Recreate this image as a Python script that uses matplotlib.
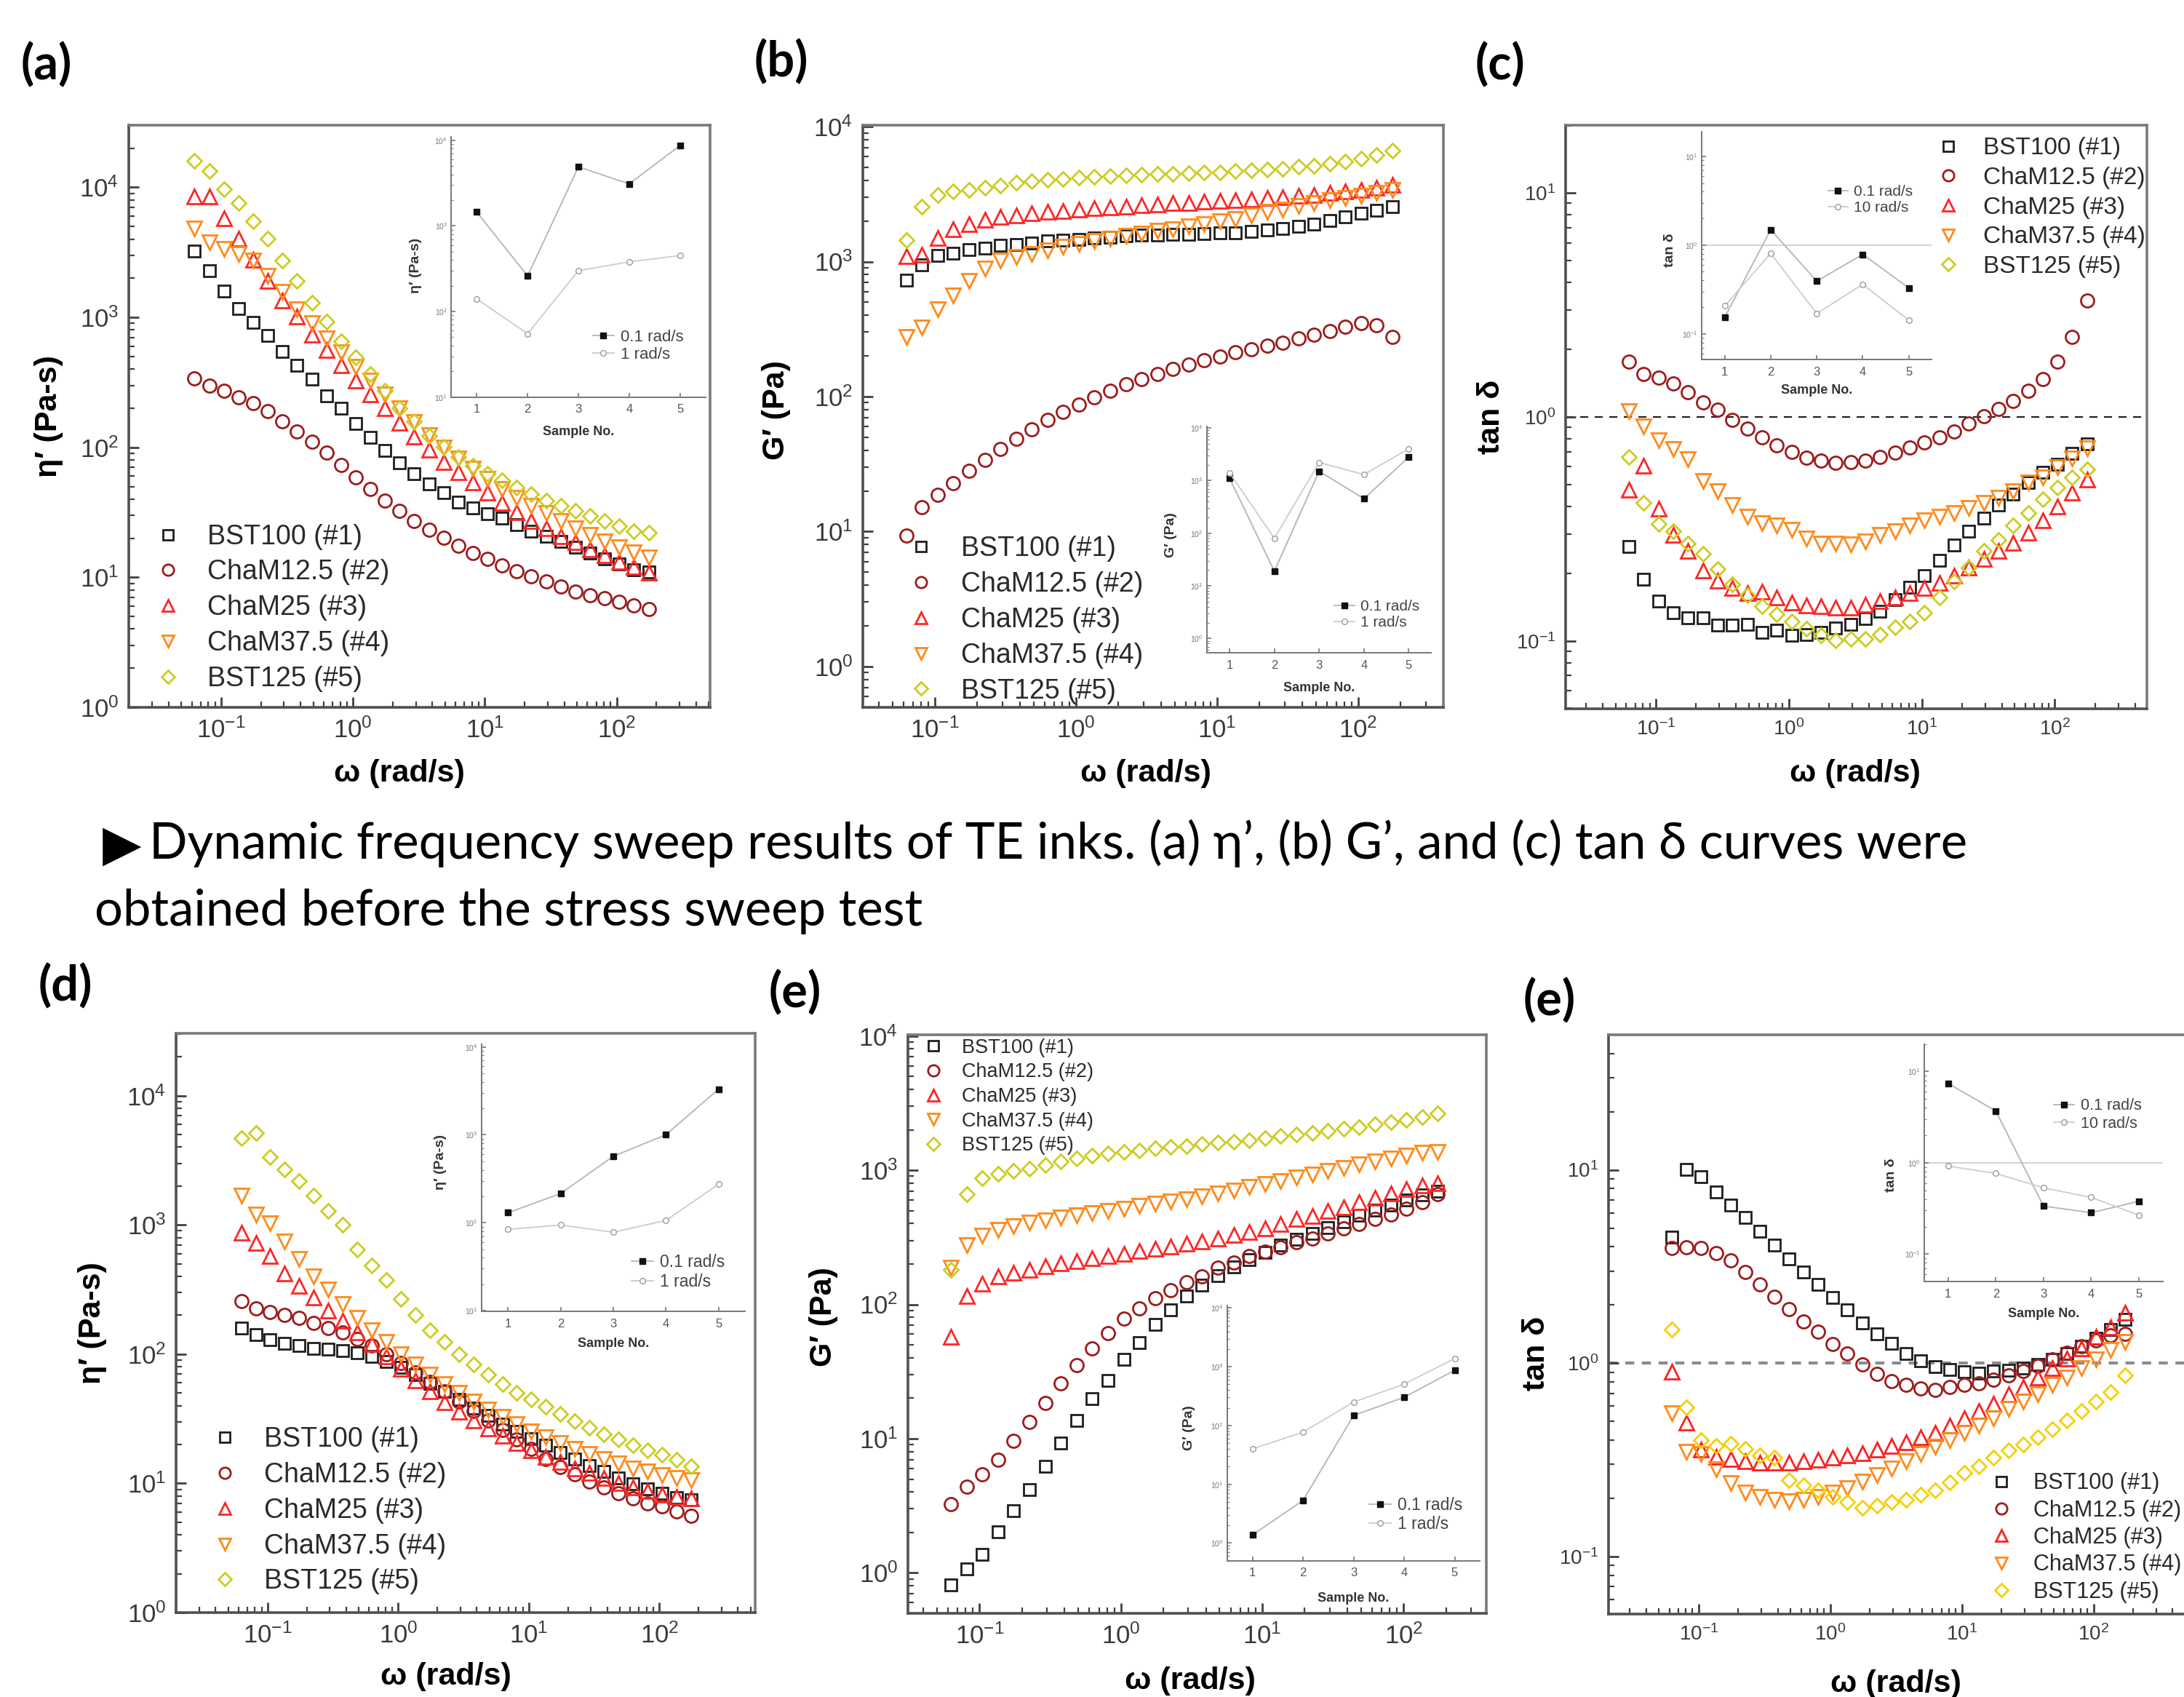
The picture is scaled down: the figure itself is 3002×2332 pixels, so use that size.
import numpy as np
import matplotlib
matplotlib.use("Agg")
import matplotlib.pyplot as plt
from matplotlib.ticker import LogLocator, NullFormatter, FixedLocator

# angular frequency grid (rad/s), shared by every panel
omega = [0.0628, 0.0811, 0.1048, 0.1353, 0.1748, 0.2257, 0.2915, 0.3765, 0.4863,
         0.628, 0.811, 1.048, 1.353, 1.748, 2.257, 2.915, 3.765, 4.863,
         6.28, 8.11, 10.48, 13.53, 17.48, 22.57, 29.15, 37.65, 48.63,
         62.8, 81.1, 104.8, 135.3, 174.8]
samples = [1, 2, 3, 4, 5]
names = ["BST100 (#1)", "ChaM12.5 (#2)", "ChaM25 (#3)", "ChaM37.5 (#4)", "BST125 (#5)"]

# (a) eta' before stress sweep
a_bst100 = [3230, 2290, 1590, 1170, 910, 726, 548, 430, 336, 250, 199, 152, 119, 95, 76, 63,
            52, 45, 38, 34, 31, 28.4, 25.5, 22.7, 20.7, 18.9, 17.0, 15.4, 13.8, 12.6, 11.5, 11.0]
a_cham125 = [337, 299, 273, 243, 218, 190, 159, 132, 110, 90.5, 73.5, 58.6, 48, 39, 32.6, 27.2,
             23.1, 20.2, 17.6, 15.4, 13.8, 12.3, 11.2, 10.2, 9.35, 8.5, 7.8, 7.3, 6.9, 6.5, 6.1, 5.7]
a_cham25 = [8500, 8500, 5760, 4010, 2790, 1910, 1355, 1015, 739, 563, 430, 327, 256, 199, 155, 121,
            96, 77, 64, 53.5, 44.7, 37.3, 31.7, 27.2, 23.7, 20.7, 18.6, 16.5, 14.8, 13.2, 12.0, 10.8]
a_cham375 = [4850, 3770, 3380, 3080, 2740, 2090, 1565, 1160, 902, 693, 538, 418, 327, 256, 199, 157,
             124, 100, 82, 68.4, 57, 47.6, 40.8, 35.6, 31.1, 27.2, 23.7, 21.1, 18.9, 17.0, 15.5, 14.2]
a_bst125 = [16000, 13400, 9740, 7620, 5500, 4010, 2740, 1910, 1295, 927, 657, 492, 365, 273, 199, 159,
            123, 101, 84, 72, 62.5, 56, 49, 43.6, 39, 35.6, 32.6, 29.7, 27.2, 24.8, 22.7, 22.1]
a_in_01 = [1450, 260, 4900, 3100, 8700]
a_in_1 = [140, 55, 300, 380, 450]

# (b) G' before stress sweep
b_bst100 = [731, 949, 1110, 1160, 1232, 1265, 1321, 1345, 1380, 1418, 1443, 1469, 1494, 1520, 1547, 1574,
            1574, 1602, 1602, 1615, 1643, 1643, 1672, 1718, 1763, 1825, 1906, 2009, 2136, 2270, 2393, 2543]
b_cham125 = [9.3, 15.2, 18.7, 22.9, 28.0, 33.9, 41.1, 48.9, 57.3, 67.0, 76.9, 86.9, 98.2, 110, 123, 134,
             147, 160, 173, 186, 199, 212, 225, 237, 252, 270, 287, 306, 328, 351, 336, 275]
b_cham25 = [1092, 1130, 1506, 1746, 1905, 2045, 2136, 2193, 2270, 2330, 2370, 2433, 2477, 2521, 2566, 2612,
            2658, 2706, 2730, 2774, 2824, 2849, 2900, 2952, 3004, 3058, 3112, 3219, 3305, 3391, 3510, 3698]
b_cham375 = [275, 327, 444, 563, 718, 893, 1018, 1082, 1141, 1211, 1288, 1357, 1418, 1480, 1547, 1615,
             1687, 1746, 1825, 1905, 1990, 2078, 2193, 2330, 2433, 2588, 2706, 2849, 2952, 3082, 3219, 3391]
b_bst125 = [1443, 2543, 3104, 3305, 3391, 3542, 3665, 3828, 3932, 4039, 4110, 4181, 4254, 4328, 4366, 4404,
            4443, 4481, 4521, 4560, 4600, 4681, 4722, 4804, 4888, 5025, 5110, 5286, 5482, 5824, 6190, 6637]
b_in_01 = [1110, 19, 1500, 450, 2800]
b_in_1 = [1400, 80, 2200, 1300, 4000]

# (c) tan delta before stress sweep
c_bst100 = [0.265, 0.189, 0.151, 0.134, 0.127, 0.127, 0.118, 0.118, 0.119, 0.109, 0.112, 0.106, 0.107, 0.109,
            0.114, 0.119, 0.126, 0.136, 0.153, 0.174, 0.196, 0.229, 0.268, 0.310, 0.354, 0.404, 0.453, 0.511,
            0.568, 0.614, 0.689, 0.757]
c_cham125 = [1.77, 1.55, 1.50, 1.41, 1.29, 1.16, 1.08, 0.97, 0.887, 0.811, 0.750, 0.700, 0.657, 0.637, 0.624,
             0.627, 0.640, 0.664, 0.693, 0.730, 0.769, 0.811, 0.863, 0.934, 1.01, 1.09, 1.18, 1.31, 1.48, 1.77,
             2.28, 3.32]
c_cham25 = [0.472, 0.608, 0.389, 0.298, 0.252, 0.207, 0.186, 0.173, 0.164, 0.166, 0.157, 0.149, 0.144, 0.143,
            0.141, 0.141, 0.145, 0.151, 0.157, 0.164, 0.172, 0.182, 0.196, 0.213, 0.232, 0.252, 0.275, 0.305,
            0.345, 0.400, 0.460, 0.525]
c_cham375 = [1.065, 0.910, 0.789, 0.718, 0.647, 0.519, 0.467, 0.404, 0.360, 0.336, 0.327, 0.314, 0.287, 0.272,
             0.272, 0.270, 0.279, 0.298, 0.310, 0.327, 0.345, 0.360, 0.373, 0.394, 0.414, 0.436, 0.467, 0.511,
             0.538, 0.598, 0.653, 0.726]
c_bst125 = [0.664, 0.414, 0.332, 0.310, 0.272, 0.245, 0.210, 0.179, 0.160, 0.143, 0.132, 0.122, 0.1135, 0.106,
            0.1005, 0.102, 0.102, 0.107, 0.115, 0.122, 0.134, 0.157, 0.184, 0.213, 0.252, 0.283, 0.327, 0.373,
            0.430, 0.485, 0.538, 0.582]
c_in_01 = [0.153, 1.49, 0.392, 0.786, 0.329]
c_in_10 = [0.206, 0.807, 0.169, 0.361, 0.142]

# (d) eta'
d_bst100 = [160, 141, 129, 121, 116, 111, 109, 106, 102, 95.7, 87.9, 78.7, 69.2, 59.8, 51.3, 44.4,
            38.4, 33.4, 28.9, 25.4, 22.3, 19.7, 17.3, 15.5, 13.7, 12.3, 11.0, 9.9, 9.1, 8.4, 7.8, 7.5]
d_cham125 = [257, 225, 212, 202, 190, 175, 160, 147, 131, 117, 100, 85.7, 72.2, 60.8, 51.3, 43.2,
             36.4, 30.7, 25.9, 21.8, 18.4, 15.5, 13.4, 11.8, 10.3, 9.3, 8.4, 7.7, 7.0, 6.6, 6.1, 5.6]
d_cham25 = [865, 728, 578, 421, 337, 275, 216, 182, 147, 119, 95.7, 77.3, 62.5, 51.3, 42.5, 35.8,
            30.7, 26.5, 23.3, 20.5, 18.1, 16.1, 14.6, 13.0, 12.0, 11.0, 10.1, 9.3, 8.7, 8.2, 7.9, 7.7]
d_cham375 = [1687, 1197, 1026, 748, 545, 400, 318, 245, 190, 153, 124, 100, 82.8, 69.2, 58.9, 50.5,
             43.2, 37.4, 32.9, 28.9, 25.4, 22.7, 20.5, 18.5, 16.9, 15.5, 14.2, 13.1, 12.3, 11.6, 11.0, 10.6]
d_bst125 = [4710, 5130, 3345, 2700, 2180, 1687, 1282, 1008, 646, 487, 377, 268, 202, 153, 124, 100,
            82.8, 69.2, 58.9, 50.5, 44.4, 39.0, 34.3, 30.2, 27.0, 23.9, 21.8, 19.7, 18.1, 16.6, 15.2, 13.6]
d_in_01 = [130, 215, 570, 1000, 3300]
d_in_1 = [84, 94, 78, 106, 274]

# (e) G'
e_bst100 = [0.81, 1.07, 1.37, 2.03, 2.91, 4.15, 6.25, 9.29, 13.7, 19.8, 27.0, 39.2, 52.2, 70.8, 90.6, 116,
            139, 164, 190, 215, 243, 275, 306, 338, 373, 415, 462, 501, 553, 601, 652, 697]
e_cham125 = [3.24, 4.40, 5.40, 6.96, 9.68, 13.3, 18.5, 25.8, 35.2, 46.9, 61.1, 78.2, 92.9, 111, 128, 146,
             161, 187, 206, 228, 247, 268, 291, 311, 338, 367, 398, 432, 469, 518, 576, 663]
e_cham25 = [57.7, 116, 142, 161, 172, 182, 193, 203, 211, 220, 228, 239, 249, 260, 270, 282,
            294, 311, 330, 346, 367, 398, 432, 458, 497, 531, 577, 626, 669, 720, 769, 801]
e_cham375 = [187, 275, 325, 361, 382, 408, 425, 443, 462, 481, 497, 518, 540, 562, 586, 610,
             641, 674, 708, 750, 788, 834, 883, 929, 984, 1042, 1104, 1159, 1228, 1290, 1345, 1367]
e_bst125 = [182, 663, 869, 944, 984, 1026, 1086, 1159, 1228, 1280, 1334, 1367, 1401, 1448, 1483, 1520,
            1559, 1599, 1637, 1679, 1735, 1794, 1854, 1900, 1963, 2029, 2097, 2184, 2277, 2374, 2491, 2638]
e_in_01 = [1.37, 5.3, 148, 302, 870]
e_in_1 = [40, 77, 250, 505, 1380]

# (e) tan delta, right-hand panel
f_bst100 = [4.48, 10.05, 9.23, 7.65, 6.56, 5.69, 4.80, 4.09, 3.47, 2.95, 2.56, 2.18, 1.89, 1.62, 1.42, 1.27,
            1.12, 1.03, 0.962, 0.929, 0.902, 0.892, 0.908, 0.918, 0.945, 0.989, 1.047, 1.12, 1.22, 1.35,
            1.49, 1.69]
f_cham125 = [3.93, 3.97, 3.93, 3.71, 3.40, 2.95, 2.56, 2.20, 1.90, 1.65, 1.45, 1.26, 1.12, 0.989, 0.877, 0.805,
             0.774, 0.743, 0.731, 0.752, 0.774, 0.787, 0.819, 0.867, 0.908, 0.972, 1.047, 1.13, 1.22, 1.31,
             1.39, 1.42]
f_cham25 = [0.902, 0.491, 0.358, 0.329, 0.320, 0.311, 0.306, 0.306, 0.307, 0.311, 0.316, 0.324, 0.333, 0.344,
            0.358, 0.373, 0.391, 0.413, 0.438, 0.477, 0.519, 0.565, 0.616, 0.690, 0.752, 0.843, 0.945, 1.06,
            1.19, 1.37, 1.53, 1.82]
f_cham375 = [0.550, 0.348, 0.339, 0.282, 0.240, 0.215, 0.203, 0.197, 0.194, 0.197, 0.203, 0.215, 0.227, 0.245,
             0.265, 0.285, 0.311, 0.339, 0.369, 0.402, 0.438, 0.477, 0.519, 0.582, 0.634, 0.690, 0.774, 0.843,
             0.945, 1.047, 1.17, 1.29]
f_bst125 = [1.49, 0.592, 0.402, 0.375, 0.384, 0.362, 0.335, 0.324, 0.248, 0.234, 0.221, 0.203, 0.191, 0.179,
            0.183, 0.191, 0.197, 0.209, 0.221, 0.243, 0.270, 0.294, 0.324, 0.355, 0.380, 0.413, 0.455, 0.505,
            0.565, 0.634, 0.710, 0.867]
f_in_01 = [7.4, 3.7, 0.336, 0.284, 0.379]
f_in_10 = [0.92, 0.766, 0.532, 0.418, 0.267]

caption_1 = "Dynamic frequency sweep results of TE inks. (a) \u03b7\u2019, (b) G\u2019, and (c) tan \u03b4 curves were"
caption_2 = "obtained before the stress sweep test"

W, H, DPI = 3002, 2332, 100
plt.rcParams["font.family"] = ["Liberation Sans", "DejaVu Sans"]
plt.rcParams["mathtext.fontset"] = "custom"
plt.rcParams["mathtext.rm"] = "Liberation Sans"
plt.rcParams["mathtext.it"] = "Liberation Sans:italic"
plt.rcParams["mathtext.bf"] = "Liberation Sans:bold"

MARKERS = ["s", "o", "^", "v", "D"]
SIZES = [12, 13, 14, 14, 10.5]
COLORS = ["#1e1e1e", "#9c1d1d", "#ff2626", "#ff8a1c", "#cccc22"]
COLORS_F = ["#1e1e1e", "#9c1d1d", "#ff2020", "#ff8a1c", "#f5d000"]
ETA = "\u03b7\u2032 (Pa-s)"
GP = "G\u2032 (Pa)"
TAN = "tan \u03b4"

# leg = (marker x, rows centre y, font size, row spacing) in axes fractions / points
panels = [
    dict(box=(177, 172, 976, 972), xlim=(0.0199, 511), ylim=(1, 30100), ylabel=ETA, tick_fs=25,
         series=[a_bst100, a_cham125, a_cham25, a_cham375, a_bst125], colors=COLORS,
         xl=(0.466, -0.114), yl=(-0.138, 0.5), leg=(0.067, 0.171, 27, 0.34),
         in_rect=[0.555, 0.533, 0.437, 0.447], in_ylim=(10, 1.1e4), in_a=a_in_01, in_b=a_in_1,
         in_lab="1 rad/s", in_ylabel=ETA, in_leg=(0.598, 0.196, 16), in_xl=-0.134, in_yl=(-0.14, 0.505)),
    dict(box=(1186, 172, 1984, 972), xlim=(0.0309, 401), ylim=(0.498, 10260), ylabel=GP, tick_fs=25,
         series=[b_bst100, b_cham125, b_cham25, b_cham375, b_bst125], colors=COLORS,
         xl=(0.487, -0.114), yl=(-0.149, 0.511), leg=(0.1006, 0.150, 27, 0.34),
         in_rect=[0.593, 0.094, 0.386, 0.388], in_ylim=(0.54, 1.05e4), in_a=b_in_01, in_b=b_in_1,
         in_lab="1 rad/s", in_ylabel=GP, in_leg=(0.613, 0.168, 15), in_xl=-0.158, in_yl=(-0.163, 0.52)),
    dict(box=(2152, 172, 2951, 974), xlim=(0.0210, 492), ylim=(0.0498, 20.1), ylabel=TAN, tick_fs=20,
         series=[c_bst100, c_cham125, c_cham25, c_cham375, c_bst125], colors=COLORS,
         xl=(0.498, -0.111), yl=(-0.128, 0.5), leg=(0.658, 0.859, 24, 0.29),
         hline=dict(color="#222222", lw=1.6, ls=(0, (5, 4))),
         in_rect=[0.234, 0.598, 0.396, 0.391], in_ylim=(0.051, 19), in_a=c_in_01, in_b=c_in_10,
         in_lab="10 rad/s", in_ylabel=TAN, in_leg=(0.592, 0.70, 15), in_xl=-0.134, in_yl=(-0.137, 0.48),
         in_hline=True),
    dict(box=(242, 1420, 1038, 2216), xlim=(0.0199, 542), ylim=(1, 30400), ylabel=ETA, tick_fs=25,
         series=[d_bst100, d_cham125, d_cham25, d_cham375, d_bst125], colors=COLORS,
         xl=(0.466, -0.111), yl=(-0.144, 0.5), leg=(0.084, 0.176, 27, 0.34),
         in_rect=[0.528, 0.520, 0.454, 0.461], in_ylim=(9.8, 1.07e4), in_a=d_in_01, in_b=d_in_1,
         in_lab="1 rad/s", in_ylabel=ETA, in_leg=(0.611, 0.147, 16.5), in_xl=-0.122, in_yl=(-0.157, 0.56)),
    dict(box=(1248, 1422, 2043, 2217), xlim=(0.0312, 385), ylim=(0.5, 10200), ylabel=GP, tick_fs=25,
         series=[e_bst100, e_cham125, e_cham25, e_cham375, e_bst125], colors=COLORS,
         xl=(0.488, -0.117), yl=(-0.146, 0.512), leg=(0.044, 0.893, 19.5, 0.28),
         in_rect=[0.552, 0.091, 0.437, 0.441], in_ylim=(0.5, 1.1e4), in_a=e_in_01, in_b=e_in_1,
         in_lab="1 rad/s", in_ylabel=GP, in_leg=(0.604, 0.18, 16.5), in_xl=-0.147, in_yl=(-0.152, 0.52)),
    dict(box=(2211, 1422, 3006, 2218), xlim=(0.0207, 513), ylim=(0.0505, 49.9), ylabel=TAN, tick_fs=20,
         series=[f_bst100, f_cham125, f_cham25, f_cham375, f_bst125], colors=COLORS_F,
         xl=(0.497, -0.12), yl=(-0.125, 0.45), leg=(0.679, 0.132, 22, 0.24),
         hline=dict(color="#8c8c8c", lw=3.0, ls=(0, (3, 2.5))),
         in_rect=[0.546, 0.574, 0.412, 0.410], in_ylim=(0.05, 20), in_a=f_in_01, in_b=f_in_10,
         in_lab="10 rad/s", in_ylabel=TAN, in_leg=(0.587, 0.702, 15.5), in_xl=-0.137, in_yl=(-0.139, 0.45),
         in_hline=True),
]

panel_tags = [("(a)", 64, 90), ("(b)", 1074, 86), ("(c)", 2062, 90),
              ("(d)", 90, 1356), ("(e)", 1093, 1365), ("(e)", 2130, 1376)]

fig = plt.figure(figsize=(W / DPI, H / DPI), dpi=DPI)


def px_rect(l, t, r, b):
    return [l / W, 1 - b / H, (r - l) / W, (b - t) / H]


def log_ticks(axis, lim, n=15):
    # major ticks only on the decades inside the limits
    lo = int(np.ceil(np.log10(lim[0]) - 1e-9))
    hi = int(np.floor(np.log10(lim[1]) + 1e-9))
    axis.set_major_locator(FixedLocator([10.0 ** k for k in range(lo, hi + 1)]))
    axis.set_minor_locator(LogLocator(base=10, subs=np.arange(2, 10), numticks=n))
    axis.set_minor_formatter(NullFormatter())


def draw_inset(ax, p, axw):
    r = p["in_rect"]
    ins = ax.inset_axes(r)
    ins.set_yscale("log")
    ins.patch.set_alpha(0)
    if p.get("in_hline"):
        ins.axhline(1, color="#d0d0d0", lw=1.3, zorder=1)
    ins.plot(samples, p["in_a"], color="#b4b4b4", lw=1.3, marker="s", ms=5.5,
             mfc="#111111", mec="#111111", label="0.1 rad/s")
    ins.plot(samples, p["in_b"], color="#cccccc", lw=1.3, marker="o", ms=5.5,
             mfc="white", mec="#9a9a9a", mew=1.0, label=p["in_lab"])
    ins.set_xlim(0.5, 5.5)
    ins.set_ylim(p["in_ylim"])
    ins.set_xticks(samples)
    log_ticks(ins.yaxis, p["in_ylim"], 10)
    for side in ("top", "right"):
        ins.spines[side].set_visible(False)
    for side in ("left", "bottom"):
        ins.spines[side].set_color("#777777")
        ins.spines[side].set_linewidth(1.4)
    ins.tick_params(which="both", direction="in", color="#777777")
    ins.tick_params(axis="x", labelsize=12, labelcolor="#555555", length=4, width=1.2, pad=7)
    ins.tick_params(axis="y", which="major", labelsize=7.5, labelcolor="#777777", length=4, width=1.2, pad=4)
    ins.tick_params(axis="y", which="minor", length=2, width=0.8)
    ins.set_xlabel("Sample No.", fontsize=13, fontweight="bold", color="#333333")
    ins.xaxis.set_label_coords(0.5, p["in_xl"])
    ins.xaxis.label.set_va("center")
    ins.set_ylabel(p["in_ylabel"], fontsize=14, fontweight="bold", color="#333333")
    ins.yaxis.set_label_coords(*p["in_yl"])
    ins.yaxis.label.set_va("center")
    mx, yc, fs = p["in_leg"]
    hl = 1.3
    x0 = mx - 0.5 * hl * fs * DPI / 72 / (r[2] * axw)
    leg = ins.legend(loc="center left", bbox_to_anchor=(x0, yc), frameon=False, fontsize=fs,
                     handlelength=hl, handletextpad=0.4, labelspacing=0.15,
                     borderpad=0, borderaxespad=0)
    for t in leg.get_texts():
        t.set_color("#444444")


for p in panels:
    ax = fig.add_axes(px_rect(*p["box"]))
    ax.set_xscale("log")
    ax.set_yscale("log")
    log_ticks(ax.xaxis, p["xlim"])
    log_ticks(ax.yaxis, p["ylim"])
    for side, sp in ax.spines.items():
        sp.set_linewidth(2.6)
        sp.set_color("#505050" if side in ("left", "bottom") else "#7a7a7a")
    ax.tick_params(which="both", direction="in", top=False, right=False, color="#404040")
    ax.tick_params(which="major", length=10, width=2.0, labelsize=p["tick_fs"],
                   labelcolor="#3a3a3a", pad=10)
    ax.tick_params(which="minor", length=5.5, width=1.6)

    for vals, name, m, ms, c in zip(p["series"], names, MARKERS, SIZES, p["colors"]):
        ax.plot(omega, vals, ls="none", marker=m, ms=ms, mfc="none", mec=c, mew=2.0, label=name)
    if "hline" in p:
        ax.axhline(1, zorder=0.5, **p["hline"])
    ax.set_xlim(p["xlim"])
    ax.set_ylim(p["ylim"])

    ax.set_xlabel("\u03c9 (rad/s)", fontsize=31, fontweight="bold")
    ax.xaxis.set_label_coords(*p["xl"])
    ax.xaxis.label.set_va("center")
    ax.set_ylabel(p["ylabel"], fontsize=31, fontweight="bold")
    ax.yaxis.set_label_coords(*p["yl"])
    ax.yaxis.label.set_va("center")

    axw = p["box"][2] - p["box"][0]
    mx, yc, fs, ls = p["leg"]
    hl = 0.8
    x0 = mx - 0.5 * hl * fs * DPI / 72 / axw
    leg = ax.legend(loc="center left", bbox_to_anchor=(x0, yc), frameon=False, fontsize=fs,
                    handlelength=hl, handletextpad=1.05, labelspacing=ls,
                    borderpad=0, borderaxespad=0, markerscale=0.85)
    for t in leg.get_texts():
        t.set_color("#2a2a2a")

    draw_inset(ax, p, axw)

for tag, x, y in panel_tags:
    fig.text(x / W, 1 - y / H, tag, fontsize=48, fontweight="bold", family=["Lato", "DejaVu Sans"],
             ha="center", va="center")

# caption between the two rows, sized to span the same width as in the source
renderer = fig.canvas.get_renderer()


def fit_text(x0, x1, y_base, s, fs0=40):
    t = fig.text(x0 / W, 1 - y_base / H, s, fontsize=fs0, family=["Lato", "DejaVu Sans"],
                 ha="left", va="baseline", color="black")
    w = t.get_window_extent(renderer).width
    t.set_fontsize(fs0 * (x1 - x0) / w)
    return t


fig.text(141 / W, 1 - 1162 / H, "\u25b6", fontsize=50, family=["DejaVu Sans"], ha="left", va="center")
fit_text(205, 2701, 1180, caption_1)
fit_text(130, 1267, 1272, caption_2)

fig.savefig("out.png", dpi=DPI, facecolor="white")
